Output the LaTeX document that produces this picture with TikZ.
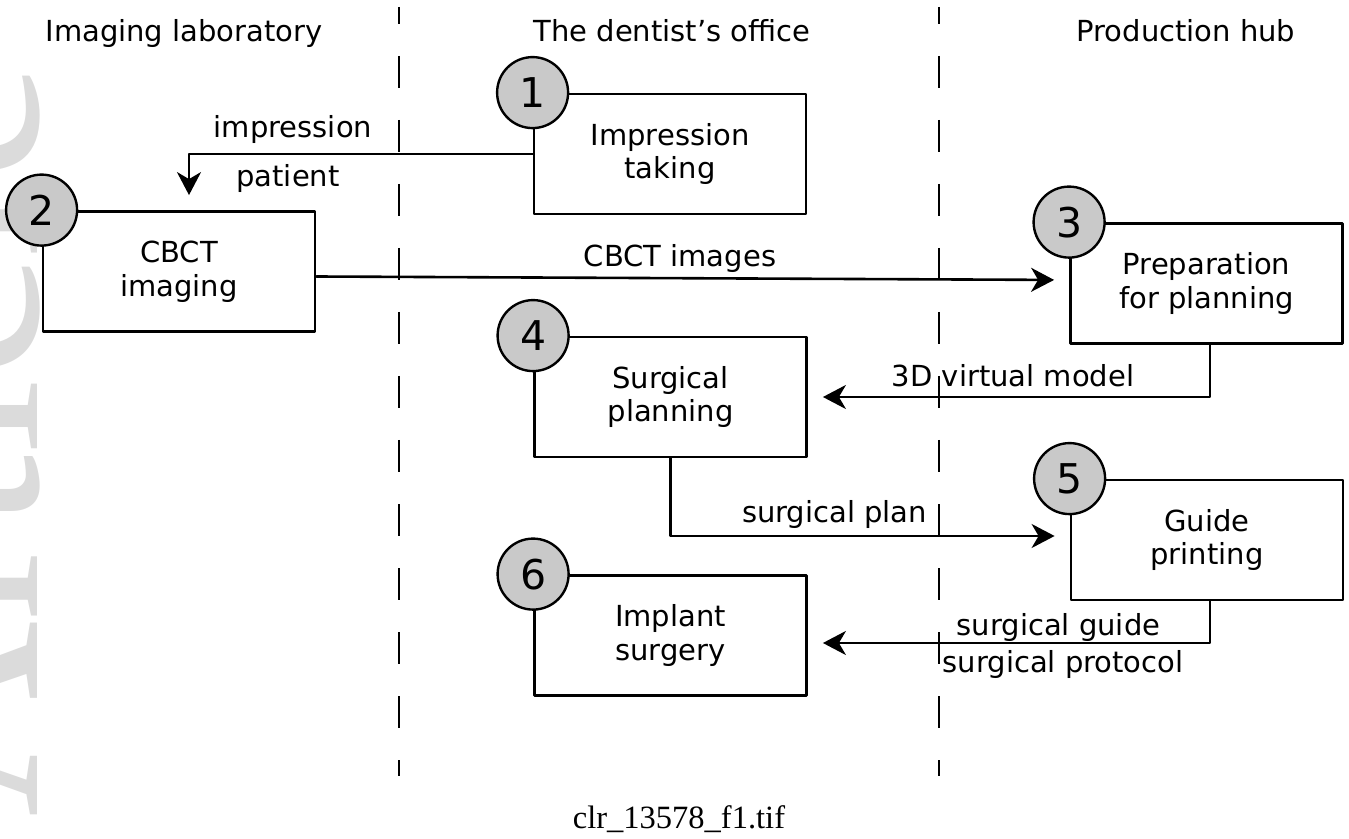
\documentclass[tikz,border=0pt]{standalone}
\usepackage{fontspec}
\setmainfont{DejaVu Sans}
\newfontfamily\capfont{Liberation Serif}
\usetikzlibrary{arrows.meta}

\begin{document}
\begin{tikzpicture}[line cap=round,line join=round,>={Stealth[length=11.5pt,width=12pt,inset=3.5pt]},x=0.5pt,y=-0.5pt,
procbox/.style={draw,line width=1.4pt,minimum width=136pt,minimum height=60pt,inner sep=0pt,align=center,font=\fontsize{14.5}{16.8}\selectfont},
numdot/.style={circle,draw,line width=1.2pt,fill=black!21,minimum size=35.5pt,inner sep=0pt,font=\fontsize{20.5}{20.5}\selectfont},
lbl/.style={anchor=base,inner sep=0pt,font=\fontsize{14.5}{16.8}\selectfont},
flow/.style={->,line width=1.3pt,shorten >=7.5pt},
lane/.style={line width=1.3pt,line cap=butt,dash pattern=on 16pt off 16pt,dash phase=7.5pt}]
\useasboundingbox (0,0) rectangle (1349,839);
\begin{scope}
\clip (0,0) rectangle (1349,839);
\node[rotate=90,anchor=base east,inner sep=0pt,text=black!14,font=\capfont\fontsize{136}{136}\selectfont] (wmark) at (37,62) {Accepted Article};
\end{scope}
\node[lbl] (hlab) at (184,42) {Imaging laboratory};
\node[lbl] (hoff) at (672,42) {The dentist’s office};
\node[lbl] (hhub) at (1186,42) {Production hub};
\draw[lane] (399,7) -- (399,776);
\draw[lane] (939,7) -- (939,776);
\node[procbox] (impr) at (670,154) {Impression\\taking};
\node[procbox] (cbct) at (179,271.5) {CBCT\\imaging};
\node[procbox] (prep) at (1206.5,283.5) {Preparation\\for planning};
\node[procbox] (plan) at (670.5,397) {Surgical\\planning};
\node[procbox] (print) at (1207,540) {Guide\\printing};
\node[procbox] (surg) at (670.5,635.5) {Implant\\surgery};
\node[numdot] (n1) at (impr.north west) {1};
\node[numdot] (n2) at (cbct.north west) {2};
\node[numdot] (n3) at (prep.north west) {3};
\node[numdot] (n4) at (plan.north west) {4};
\node[numdot] (n5) at (print.north west) {5};
\node[numdot] (n6) at (surg.north west) {6};
\draw[flow] (impr.west) -| ([xshift=5pt]cbct.north);
\draw[flow] ([yshift=-2.5pt]cbct.east) -- ([yshift=1.75pt]prep.west);
\draw[flow] ([xshift=1.75pt]prep.south) |- (plan.east);
\draw[flow] (plan.south) |- ([yshift=2pt]print.west);
\draw[flow] ([xshift=1.5pt]print.south) |- ([yshift=-3.75pt]surg.east);
\node[lbl] (limp) at (293,138) {impression};
\node[lbl] (lpat) at (288,187) {patient};
\node[lbl] (lcbct) at (680,267) {CBCT images};
\node[lbl] (l3d) at (1013,387) {3D virtual model};
\node[lbl] (lplan) at (834.5,523) {surgical plan};
\node[lbl] (lgd) at (1058.5,635) {surgical guide};
\node[lbl] (lprot) at (1063,672) {surgical protocol};
\node[anchor=base,inner sep=0pt,font=\capfont\fontsize{16.25}{18}\selectfont] (fname) at (679,828) {clr\_13578\_f1.tif};
\end{tikzpicture}
\end{document}
